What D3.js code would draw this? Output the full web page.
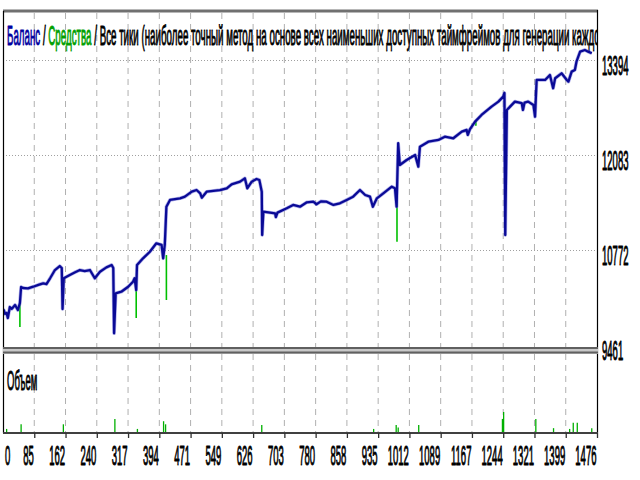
<!DOCTYPE html>
<html><head><meta charset="utf-8">
<script src="https://cdn.jsdelivr.net/npm/d3@7"></script>
<style>html,body{margin:0;padding:0;background:#fff;overflow:hidden}</style>
</head><body>
<svg id="c" width="640" height="480"></svg>
<script>
// ---------- data ----------
const xTickLabels = ["0","85","162","240","317","394","471","549","626","703","780","858","935","1012","1089","1167","1244","1321","1399","1476"];
const priceTicks = [9461, 10772, 12083, 13394];
const titleParts = [
  {text:"Баланс", color:"#0000a0"},
  {text:" / ", color:"#000000"},
  {text:"Средства", color:"#00a000"},
  {text:" / Все тики (наиболее точный метод на основе всех наименьших доступных таймфреймов для генерации каждого тика)", color:"#000000"}
];
const volumeLabel = "Объем";
// balance: [trade, value]
const balance = [
  [0,9930],[2,9943],[5,9890],[9,9902],[12,9833],[17,9984],[22,9960],[30,10012],[37,9943],[42,10040],[45,10260],[50,10246],
  [62,10240],[75,10264],[88,10290],[100,10311],[108,10300],[117,10380],[129,10494],[141,10549],[146,10522],[148,9957],[151,10380],
  [166,10425],[178,10460],[191,10494],[203,10480],[216,10494],[228,10380],[241,10471],[257,10531],[270,10563],[274,10522],
  [276,9622],[280,10173],[294,10195],[311,10264],[323,10333],[327,10380],[331,10219],[333,10563],[348,10655],[365,10746],
  [381,10862],[394,10839],[398,10655],[402,10839],[406,11366],[415,11459],[440,11482],[452,11504],[469,11573],[481,11596],
  [490,11551],[494,11490],[506,11573],[539,11596],[556,11620],[568,11675],[589,11711],[601,11757],[607,11620],[618,11711],
  [630,11748],[637,11734],[643,11573],[644,10976],[647,11297],[676,11275],[678,11224],[682,11285],[705,11344],[721,11390],
  [738,11366],[755,11427],[771,11435],[779,11400],[790,11440],[804,11435],[821,11390],[837,11413],[854,11459],[870,11504],
  [887,11596],[900,11527],[912,11504],[919,11366],[929,11482],[945,11551],[966,11642],[974,11620],[978,11366],[982,12240],
  [986,11941],[1003,12010],[1024,12079],[1032,11918],[1036,12193],[1057,12262],[1082,12286],[1098,12331],[1119,12309],
  [1140,12400],[1152,12424],[1155,12355],[1160,12430],[1173,12538],[1189,12630],[1214,12745],[1231,12814],[1243,12883],
  [1246,12934],[1248,10976],[1252,12699],[1272,12814],[1289,12792],[1292,12699],[1296,12800],[1305,12814],[1318,12768],
  [1322,12606],[1326,13112],[1347,13112],[1359,13181],[1367,12998],[1372,13136],[1388,13204],[1401,13112],[1405,13089],
  [1413,13227],[1421,13250],[1425,13364],[1434,13502],[1446,13525],[1454,13502],[1463,13480]
];
// equity dips below balance: [trade, from, to]
const equityDips = [[42,10040,9709],[331,10300,9833],[406,10700,10081],[979,11500,10884],[1175,12561,12480]];
// volume (lots): [trade, lots]
const volume = [
  [9,0.02],[45,0.05],[150,0.05],[278,0.085],[334,0.02],[399,0.07],[404,0.05],[643,0.045],
  [921,0.02],[977,0.045],[982,0.03],[1033,0.045],[1241,0.085],[1244,0.13],[1324,0.085],
  [1368,0.025],[1408,0.02],[1417,0.06],[1427,0.06],[1463,0.025]
];

// ---------- layout ----------
const svg = d3.select("#c");
const L = 3, R = 597, TOP = 11, SEP = 347, BOT = 433;
const xi = d3.scaleLinear().domain([0, xTickLabels.length - 1]).range([L, R]);
const x = d3.scaleLinear().domain([0, 1476]).range([L, R]);
const y = d3.scaleLinear().domain([9461, 13394]).range([345, 59.5]);
const vy = d3.scaleLinear().domain([0, 0.5]).range([432, 355]);
const FONT = "Liberation Sans, Arial, sans-serif";
const FS = 28, SX = 0.34, SW = 1.0;

function styleText(sel, color) {
  return sel.attr("font-family",FONT).attr("font-size",FS).attr("fill",color)
    .attr("stroke",color).attr("stroke-width",SW).attr("stroke-linejoin","round");
}

svg.append("rect").attr("width",640).attr("height",480).attr("fill","#fff");

// vertical dashed grid
const gv = svg.append("g");
xTickLabels.forEach((d,i) => {
  if (i === 0 || i === xTickLabels.length-1) return;
  gv.append("line").attr("x1", xi(i)).attr("x2", xi(i)).attr("y1", TOP+2).attr("y2", BOT-1)
    .attr("stroke","#b0b0b0").attr("stroke-width",1).attr("stroke-dasharray","6,5");
});
// horizontal dotted grid
priceTicks.forEach(v => {
  if (v === priceTicks[0]) return;
  svg.append("line").attr("x1", L).attr("x2", R).attr("y1", Math.round(y(v))+0.5).attr("y2", Math.round(y(v))+0.5)
    .attr("stroke","#a0a0a0").attr("stroke-width",1).attr("stroke-dasharray","1,2");
});

// title
svg.append("clipPath").attr("id","titleClip").append("rect").attr("x",L).attr("y",TOP).attr("width",R-L).attr("height",50);
const titleG = svg.append("g").attr("clip-path","url(#titleClip)");
const tmp = svg.append("text").attr("font-family",FONT).attr("font-size",FS)
  .text("Баланс / Средства / Все тики (наиболее точный метод на основе всех наименьших доступных таймфреймов для генерации каждо");
const tw = tmp.node().getComputedTextLength();
tmp.remove();
const tsx = (600 - 7) / tw;
const title = titleG.append("text").attr("font-family",FONT).attr("font-size",FS)
  .attr("stroke-width",SW).attr("stroke-linejoin","round")
  .attr("transform",`translate(7,45) scale(${tsx},1)`);
titleParts.forEach(p => title.append("tspan").attr("fill",p.color).attr("stroke",p.color).text(p.text));

// plot area
svg.append("clipPath").attr("id","plotClip").append("rect")
  .attr("x",L).attr("y",TOP).attr("width",R-L).attr("height",SEP-TOP);
const pg = svg.append("g").attr("clip-path","url(#plotClip)");
pg.selectAll("line.eq").data(equityDips).join("line").attr("class","eq")
  .attr("x1", d=>x(d[0])).attr("x2", d=>x(d[0])).attr("y1", d=>y(d[1])).attr("y2", d=>y(d[2]))
  .attr("stroke","#00c000").attr("stroke-width",1.6);

const line = d3.line().x(d=>x(d[0])).y(d=>y(d[1]));
pg.append("path").datum(balance).attr("d",line).attr("fill","none")
  .attr("stroke","#7070d8").attr("stroke-width",3.6).attr("stroke-linejoin","round").attr("opacity",0.55);
pg.append("path").datum(balance).attr("d",line).attr("fill","none")
  .attr("stroke","#0a0a96").attr("stroke-width",2.3).attr("stroke-linejoin","round");

// volume bars
svg.selectAll("line.vol").data(volume).join("line").attr("class","vol")
  .attr("x1", d=>x(d[0])).attr("x2", d=>x(d[0])).attr("y1", vy(0)).attr("y2", d=>vy(d[1]))
  .attr("stroke","#00b000").attr("stroke-width",1.3);

styleText(svg.append("text"), "#000")
  .attr("transform",`translate(7,390) scale(${SX},1)`).text(volumeLabel);

// frame
svg.append("line").attr("x1",L).attr("x2",R+1).attr("y1",TOP).attr("y2",TOP).attr("stroke","#707070").attr("stroke-width",3);
svg.append("line").attr("x1",L+0.5).attr("x2",L+0.5).attr("y1",TOP).attr("y2",BOT).attr("stroke","#000").attr("stroke-width",1.2);
svg.append("line").attr("x1",R+0.5).attr("x2",R+0.5).attr("y1",TOP-1).attr("y2",BOT).attr("stroke","#000").attr("stroke-width",1.2);
svg.append("rect").attr("x",L).attr("y",SEP).attr("width",R-L+1).attr("height",7).attr("fill","#c8c8c8");
svg.append("line").attr("x1",L).attr("x2",R+1).attr("y1",SEP+1).attr("y2",SEP+1).attr("stroke","#606060").attr("stroke-width",2);
svg.append("line").attr("x1",L).attr("x2",R+1).attr("y1",SEP+5.5).attr("y2",SEP+5.5).attr("stroke","#606060").attr("stroke-width",2);
svg.append("line").attr("x1",L).attr("x2",R+1).attr("y1",BOT).attr("y2",BOT).attr("stroke","#404040").attr("stroke-width",2);

// x ticks + labels
xTickLabels.forEach((d,i) => {
  if (i > 0) svg.append("line").attr("x1",xi(i)+0.5).attr("x2",xi(i)+0.5).attr("y1",BOT).attr("y2",BOT+5)
    .attr("stroke","#303030").attr("stroke-width",1.3);
  const t = styleText(svg.append("text"), "#000").text(d);
  if (i === 0) t.attr("transform",`translate(5,465) scale(${SX},1)`);
  else t.attr("text-anchor","end").attr("transform",`translate(${xi(i)-0.5},465) scale(${SX},1)`);
});

// y labels
priceTicks.forEach(v => {
  styleText(svg.append("text"), "#000")
    .attr("transform",`translate(602,${y(v)+15}) scale(${SX},1)`).text(v);
});
</script>
</body></html>
